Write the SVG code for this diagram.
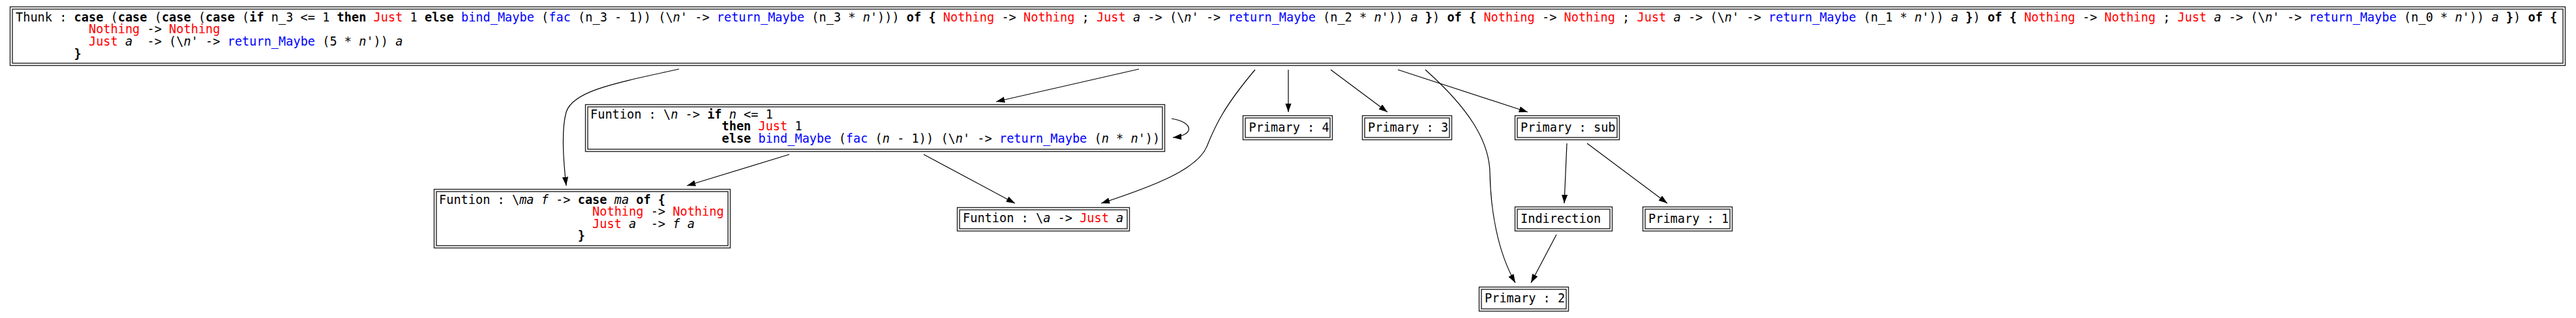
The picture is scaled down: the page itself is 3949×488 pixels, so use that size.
<svg xmlns="http://www.w3.org/2000/svg" width="3949" height="488" viewBox="0 0 3949 488" xml:space="preserve">
<style>
text{font-family:"DejaVu Sans Mono","Liberation Mono",monospace;font-size:18.6px;fill:#000;white-space:pre}
.k{font-weight:bold}
.c{fill:#ff0000}
.f{fill:#0000ff}
.v{font-style:italic}
.box{fill:none;stroke:#222;stroke-width:1.4}
.edge{fill:none;stroke:#000;stroke-width:1.2;marker-end:url(#arr)}
</style>
<defs><marker id="arr" markerUnits="userSpaceOnUse" markerWidth="14" markerHeight="10" refX="13.3" refY="4.67" orient="auto"><path d="M0,0 L13.3,4.67 L0,9.33 Z" fill="#000"/></marker></defs>
<rect x="0" y="0" width="3949" height="488" fill="#fff"/>
<g id="connectors">
<path class="edge" d="M1041,106 C940,128 878,140 868,172 C860,200 864,250 868,285"/>
<path class="edge" d="M1746,106 L1527,156"/>
<path class="edge" d="M1924,107 C1875,165 1862,195 1850,225 C1835,260 1770,285 1688,312"/>
<path class="edge" d="M1210,237 L1053,285"/>
<path class="edge" d="M1416,237 L1556,312"/>
<path class="edge" d="M1796,182 C1832,188 1830,208 1798,211"/>
<path class="edge" d="M1975,107 L1975,172"/>
<path class="edge" d="M2040,107 L2127,172"/>
<path class="edge" d="M2143,107 L2342,172"/>
<path class="edge" d="M2185,107 C2250,165 2283,215 2284,265 C2285,320 2295,385 2323,434"/>
<path class="edge" d="M2386,360 L2347,434"/>
<path class="edge" d="M2402,220 L2398,312"/>
<path class="edge" d="M2433,220 L2556,312"/>
</g>
<g id="thunk">
<rect class="box" x="15.5" y="10.5" width="3917" height="90"/>
<rect class="box" x="19" y="14" width="3910" height="83"/>
<text x="24" y="32.5">Thunk : <tspan class="k">case</tspan> (<tspan class="k">case</tspan> (<tspan class="k">case</tspan> (<tspan class="k">case</tspan> (<tspan class="k">if</tspan> n_3 &lt;= 1 <tspan class="k">then</tspan> <tspan class="c">Just</tspan> 1 <tspan class="k">else</tspan> <tspan class="f">bind_Maybe</tspan> (<tspan class="f">fac</tspan> (n_3 - 1)) (\<tspan class="v">n'</tspan> -&gt; <tspan class="f">return_Maybe</tspan> (n_3 * <tspan class="v">n'</tspan>))) <tspan class="k">of {</tspan> <tspan class="c">Nothing</tspan> -&gt; <tspan class="c">Nothing</tspan> ; <tspan class="c">Just</tspan> <tspan class="v">a</tspan> -&gt; (\<tspan class="v">n'</tspan> -&gt; <tspan class="f">return_Maybe</tspan> (n_2 * <tspan class="v">n'</tspan>)) <tspan class="v">a</tspan> <tspan class="k">}</tspan>) <tspan class="k">of {</tspan> <tspan class="c">Nothing</tspan> -&gt; <tspan class="c">Nothing</tspan> ; <tspan class="c">Just</tspan> <tspan class="v">a</tspan> -&gt; (\<tspan class="v">n'</tspan> -&gt; <tspan class="f">return_Maybe</tspan> (n_1 * <tspan class="v">n'</tspan>)) <tspan class="v">a</tspan> <tspan class="k">}</tspan>) <tspan class="k">of {</tspan> <tspan class="c">Nothing</tspan> -&gt; <tspan class="c">Nothing</tspan> ; <tspan class="c">Just</tspan> <tspan class="v">a</tspan> -&gt; (\<tspan class="v">n'</tspan> -&gt; <tspan class="f">return_Maybe</tspan> (n_0 * <tspan class="v">n'</tspan>)) <tspan class="v">a</tspan> <tspan class="k">}</tspan>) <tspan class="k">of {</tspan></text>
<text x="24" y="51.2">          <tspan class="c">Nothing</tspan> -&gt; <tspan class="c">Nothing</tspan></text>
<text x="24" y="69.9">          <tspan class="c">Just</tspan> <tspan class="v">a</tspan>  -&gt; (\<tspan class="v">n'</tspan> -&gt; <tspan class="f">return_Maybe</tspan> (5 * <tspan class="v">n'</tspan>)) <tspan class="v">a</tspan></text>
<text x="24" y="88.5">        <tspan class="k">}</tspan></text>
</g>
<g id="fun-fac">
<rect class="box" x="897.5" y="160.5" width="888" height="72"/>
<rect class="box" x="901" y="164" width="881" height="65"/>
<text x="905" y="181.5">Funtion : \<tspan class="v">n</tspan> -&gt; <tspan class="k">if</tspan> <tspan class="v">n</tspan> &lt;= 1</text>
<text x="905" y="200">                  <tspan class="k">then</tspan> <tspan class="c">Just</tspan> 1</text>
<text x="905" y="218.7">                  <tspan class="k">else</tspan> <tspan class="f">bind_Maybe</tspan> (<tspan class="f">fac</tspan> (<tspan class="v">n</tspan> - 1)) (\<tspan class="v">n'</tspan> -&gt; <tspan class="f">return_Maybe</tspan> (<tspan class="v">n</tspan> * <tspan class="v">n'</tspan>))</text>
</g>
<g id="fun-bind">
<rect class="box" x="665.5" y="290.5" width="454" height="90"/>
<rect class="box" x="669" y="294" width="447" height="83"/>
<text x="673" y="312.5">Funtion : \<tspan class="v">ma f</tspan> -&gt; <tspan class="k">case</tspan> <tspan class="v">ma</tspan> <tspan class="k">of {</tspan></text>
<text x="673" y="331">                     <tspan class="c">Nothing</tspan> -&gt; <tspan class="c">Nothing</tspan></text>
<text x="673" y="349.5">                     <tspan class="c">Just</tspan> <tspan class="v">a</tspan>  -&gt; <tspan class="v">f</tspan> <tspan class="v">a</tspan></text>
<text x="673" y="368">                   <tspan class="k">}</tspan></text>
</g>
<g id="fun-return">
<rect class="box" x="1467.5" y="318.5" width="264" height="36"/>
<rect class="box" x="1471" y="322" width="257" height="29"/>
<text x="1476" y="341">Funtion : \<tspan class="v">a</tspan> -&gt; <tspan class="c">Just</tspan> <tspan class="v">a</tspan></text>
</g>
<g id="primary-4">
<rect class="box" x="1905.5" y="177.5" width="137" height="37"/>
<rect class="box" x="1909" y="181" width="130" height="30"/>
<text x="1914.5" y="202">Primary : 4</text>
</g>
<g id="primary-3">
<rect class="box" x="2088.5" y="177.5" width="137" height="37"/>
<rect class="box" x="2092" y="181" width="130" height="30"/>
<text x="2097" y="202">Primary : 3</text>
</g>
<g id="primary-sub">
<rect class="box" x="2322.5" y="177.5" width="160" height="37"/>
<rect class="box" x="2326" y="181" width="153" height="30"/>
<text x="2331" y="202">Primary : sub</text>
</g>
<g id="indirection">
<rect class="box" x="2322.5" y="317.5" width="149" height="37"/>
<rect class="box" x="2326" y="321" width="142" height="30"/>
<text x="2331" y="341.5">Indirection </text>
</g>
<g id="primary-1">
<rect class="box" x="2518.5" y="317.5" width="137" height="37"/>
<rect class="box" x="2522" y="321" width="130" height="30"/>
<text x="2527" y="341.5">Primary : 1</text>
</g>
<g id="primary-2">
<rect class="box" x="2267.5" y="440.5" width="137" height="37"/>
<rect class="box" x="2271" y="444" width="130" height="30"/>
<text x="2276" y="464">Primary : 2</text>
</g>
</svg>
